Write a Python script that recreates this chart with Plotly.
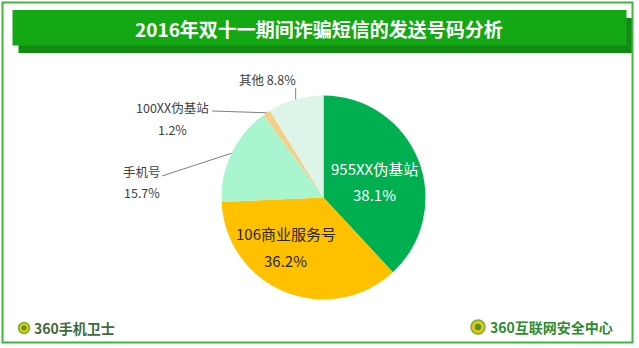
import math
import plotly.graph_objects as go

W, H = 639, 348

# Data
categories = ["955XX伪基站", "106商业服务号", "手机号", "100XX伪基站", "其他"]
shares = [38.1, 36.2, 15.7, 1.2, 8.8]
colors = ["#00B050", "#FFC000", "#A8F5D0", "#F5CE8A", "#DDF5E8"]
title_text = "2016年双十一期间诈骗短信的发送号码分析"
footer_left = "360手机卫士"
footer_right = "360互联网安全中心"

FONT = "Noto Sans CJK SC, Noto Sans, sans-serif"

# Pie geometry in pixels
CX, CY, R = 323.5, 197.5, 102


def px(x):
    return x / W


def py(y):
    return 1 - y / H


fig = go.Figure()
fig.add_trace(go.Pie(
    labels=categories,
    values=shares,
    sort=False,
    direction="clockwise",
    rotation=0,
    marker=dict(colors=colors, line=dict(width=0)),
    textinfo="none",
    domain=dict(x=[px(CX - R), px(CX + R)], y=[py(CY + R), py(CY - R)]),
    showlegend=False,
    hoverinfo="label+percent",
))


def edge_point(idx):
    """Point on the pie rim at the middle angle of slice idx."""
    total = sum(shares)
    start = sum(shares[:idx])
    mid = (start + shares[idx] / 2) / total * 2 * math.pi
    return CX + R * math.sin(mid), CY - R * math.cos(mid)


shapes = []
annotations = []


def add_text(text, x, y, size, color, anchor="center", bold=False):
    if bold:
        text = f"<b>{text}</b>"
    annotations.append(dict(text=text, x=px(x), y=py(y), xref="paper", yref="paper",
                            showarrow=False, xanchor=anchor, yanchor="middle",
                            font=dict(family=FONT, size=size, color=color)))


# Outer frame
shapes.append(dict(type="rect", xref="paper", yref="paper",
                   x0=px(2.5), x1=px(632.5), y0=py(342.5), y1=py(2.5),
                   line=dict(color="#3DB83D", width=2), fillcolor="rgba(0,0,0,0)"))
# Title bar shadow and bar
shapes.append(dict(type="rect", xref="paper", yref="paper",
                   x0=px(18.5), x1=px(632), y0=py(53), y1=py(18),
                   line=dict(width=0), fillcolor="#138A13", layer="below"))
shapes.append(dict(type="rect", xref="paper", yref="paper",
                   x0=px(12.5), x1=px(626.5), y0=py(45.5), y1=py(10),
                   line=dict(width=0), fillcolor="#14A814", layer="below"))
add_text(title_text, 319, 28.5, 19, "#FFFFFF", bold=True)

# Slice labels: name on one line, share on the next
pct = [f"{s:.1f}%" for s in shares]
add_text(categories[0], 374, 168, 15, "#FFFFFF")
add_text(pct[0], 374, 195, 15, "#FFFFFF")
add_text(categories[1], 286, 233, 15, "#262626")
add_text(pct[1], 285, 260, 15, "#262626")

label_color = "#404040"
add_text(f"{categories[4]} {pct[4]}", 267, 80, 12.5, label_color)
add_text(categories[3], 172.5, 107, 12.5, label_color)
add_text(pct[3], 172, 129, 12.5, label_color)
add_text(categories[2], 141.5, 171, 12.5, label_color)
add_text(pct[2], 141.5, 192, 12.5, label_color)

# Leader lines from the rim to the outside labels
leader_ends = {4: (None, 88), 3: (212, 111), 2: (162, 176)}
for idx, (lx, ly) in leader_ends.items():
    ex, ey = edge_point(idx)
    if lx is None:
        lx = ex
    shapes.append(dict(type="line", xref="paper", yref="paper",
                       x0=px(ex), y0=py(ey), x1=px(lx), y1=py(ly),
                       line=dict(color="#7F7F7F", width=1)))

# Footer logos
for cx, cy, rr in [(24, 328, 5.5), (478, 327, 7)]:
    shapes.append(dict(type="circle", xref="paper", yref="paper",
                       x0=px(cx - rr), x1=px(cx + rr), y0=py(cy + rr), y1=py(cy - rr),
                       line=dict(color="#6DB52B", width=1.5), fillcolor="#E8C21A"))
    shapes.append(dict(type="circle", xref="paper", yref="paper",
                       x0=px(cx - rr * 0.45), x1=px(cx + rr * 0.45),
                       y0=py(cy + rr * 0.45), y1=py(cy - rr * 0.45),
                       line=dict(width=0), fillcolor="#4E9A1E"))
add_text(footer_left, 32, 328, 14, "#3F6B3A", anchor="left", bold=True)
add_text(footer_right, 488, 327, 14, "#2E8B2E", anchor="left", bold=True)

fig.update_layout(
    width=W, height=H,
    margin=dict(l=0, r=0, t=0, b=0),
    paper_bgcolor="#FFFFFF",
    plot_bgcolor="#FFFFFF",
    shapes=shapes,
    annotations=annotations,
    font=dict(family=FONT),
)

fig.write_html("out.html", include_plotlyjs=True, full_html=True,
               config={"displayModeBar": False})
